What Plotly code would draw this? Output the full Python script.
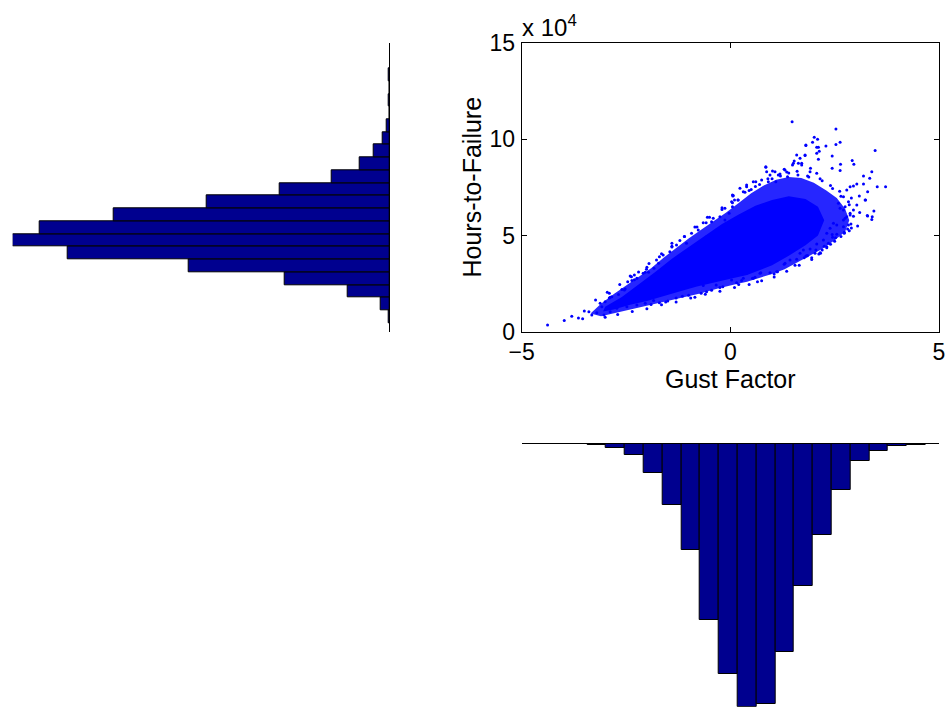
import plotly.graph_objects as go

# ---------------- data ----------------
# Individual scattered points around the cloud (Gust Factor, Hours-to-Failure in 1e4 h)
gust_factor = [
    2.53, 2.01, 2.09, 1.97, 1.81, 2.29, 2.53, 2.63, 2.07, 2.13, 3.47, 1.79, 2.44, 2.11, 2.92, 2.96, 2.64, 1.71,
    1.92, 2.44, 2.63, 3.39, 3.19, 3.34, 3.52, 3.72, 3.29, 3.09, 3.24, 3.03, 3.44, 3.40, 3.29, 2.87, 2.95, 2.79,
    2.71, 2.83, 2.79, 2.87, 2.95, 3.03, 3.19, 2.71, 2.59,
    1.48, 1.79, 1.67, 1.53, 1.49, 1.63, 0.85, 0.87, 1.01, 1.19, 1.31, 1.37, 1.09, 0.61, 0.50, 0.31, 0.06, 0.18,
    -0.13, -0.41, -0.58, 0.39, 0.75,
    2.73, 2.55, 2.45, 2.31, 2.12, 2.03, 1.81, 1.59, 1.29, 1.11, 0.95, 0.71, 0.55, 0.31, 0.15, -0.18, -0.34, -0.57,
    3.23, 3.28, 3.39, 2.87, 2.75, 2.89, 2.71, 2.73, 2.81, 2.52, 2.44, 2.31, 2.23, 2.07, 2.20, 2.05, 1.91, 1.85,
    1.77, 2.16, 2.31, 2.71, 2.63, 2.83, 2.75, 2.55, 2.39, 2.47,
    -0.65, 0.27, 0.53, 0.59, 0.73, 1.13, 1.31, 1.43, 1.67, 1.83, 1.75, 0.39, 0.03,
    -4.38, -3.98, -3.80, -3.64, -3.54, -3.50, -3.39, -3.32, -3.23, -3.12, -3.08, -3.20, -3.00, -2.88, -2.84, -2.68,
    -2.54, -2.40, -2.36, -2.46, -2.52, -2.24, -2.04, -1.96, -1.83, -1.72, -3.03, -2.88, -2.72, -2.48, -2.24, -2.04,
    -1.84,
    0.07, 0.19, 0.05, 0.05, -0.03, -0.25, -0.45, -0.65, -0.77, -0.93, -1.21, -1.29, -1.45, -1.61, -1.77, -2.01,
    -2.09, -2.37, -1.05, -0.57, -0.33, -0.13,
    1.81, 2.11, 2.07, 1.59, 1.51, 1.71, 0.85, 1.07, 1.29, 0.95, 0.55, 0.91, 0.05, 0.23, 0.03, 0.39, 2.07, 1.91,
    -1.50, -1.30, -1.00, -0.85, -1.70, -1.90, -1.15, -0.70, -0.45,
    1.20, 1.40, 1.62, 1.88, 2.20, 2.40, 2.62, 2.90, 3.10, 1.00, 0.70, 0.45, -0.20, -0.55, -0.85, -1.10, -1.40,
    -1.65, -1.95, -2.20, -2.65, -2.95, 1.55, 1.95, 2.25, 2.50, 2.85, 3.05, 2.35, 1.05, 0.65, 0.20, -0.25, -1.55,
    -2.90, -2.90, -2.60, -2.30, -2.30, -2.00, -1.70, -1.40, -1.40, -1.10, -0.80, -0.50, -0.20, 0.10, 0.35, 0.60,
    0.90, 1.15, 1.35, 1.60, 1.85, 2.15, 2.45, 2.65, 2.85, 2.95, 2.90,
    2.65, 2.40, 2.15, 1.95, 1.65, 1.35, 1.05, 0.75, 0.45, 0.10, -0.25, -0.60, -0.95, -1.30, -1.65, -2.00, -2.35,
    -2.70, -3.00,
]
hours_e4 = [
    10.54, 10.11, 10.01, 9.85, 9.68, 9.66, 9.73, 9.85, 9.59, 9.38, 9.42, 9.17, 9.14, 8.97, 8.90, 8.71, 8.71, 8.76,
    8.50, 8.50, 8.38, 8.32, 8.10, 7.98, 7.54, 7.54, 7.28, 7.06, 6.85, 6.59, 6.28, 5.98, 6.02, 6.16, 6.33, 5.98,
    5.81, 5.55, 7.37, 7.54, 7.58, 7.68, 7.68, 7.02, 6.68,
    10.92, 9.19, 9.02, 8.88, 8.67, 8.76, 8.55, 8.32, 8.36, 8.20, 8.41, 8.06, 7.80, 7.80, 7.40, 7.28, 7.06, 6.85,
    6.42, 5.90, 5.67, 7.63, 7.89,
    5.17, 5.07, 4.91, 4.42, 4.04, 4.08, 3.94, 3.77, 3.51, 3.12, 3.07, 3.04, 2.78, 2.78, 2.55, 2.34, 2.43, 2.08,
    6.85, 6.04, 5.84, 6.07, 5.90, 5.60, 5.46, 5.12, 5.34, 4.89, 5.06, 5.12, 4.77, 4.56, 4.25, 4.25, 4.30, 3.96,
    3.85, 4.08, 4.37, 6.33, 6.42, 6.76, 6.50, 5.55, 5.38, 5.64,
    2.40, 2.66, 2.78, 2.83, 3.07, 3.12, 3.56, 3.73, 4.08, 3.94, 4.25, 3.04, 2.69,
    0.35, 0.58, 0.80, 0.71, 0.68, 1.08, 1.04, 0.87, 1.65, 1.48, 1.30, 0.99, 1.56, 1.79, 1.82, 1.94,
    2.17, 2.90, 2.66, 2.60, 2.22, 2.78, 3.09, 3.09, 3.30, 3.56, 0.87, 1.04, 1.22, 1.30, 1.39, 1.48,
    1.62,
    7.08, 6.85, 6.71, 6.50, 6.16, 5.98, 5.72, 5.67, 5.29, 5.12, 4.74, 4.51, 4.16, 3.99, 3.73, 3.25,
    3.04, 2.86, 4.60, 4.94, 5.29, 5.81,
    9.71, 9.59, 9.28, 9.19, 8.76, 8.67, 8.58, 8.32, 8.45, 8.15, 7.80, 7.80, 7.11, 7.46, 6.76, 7.54, 8.24, 8.32,
    1.60, 1.75, 1.90, 1.79, 1.50, 1.42, 1.85, 2.00, 2.15,
    8.10, 8.25, 8.15, 8.05, 7.85, 7.60, 7.30, 6.95, 6.20, 7.95, 7.65, 7.35, 6.45, 5.95, 5.45, 4.95, 4.45,
    4.05, 3.55, 3.10, 2.45, 2.05, 3.45, 3.85, 4.45, 4.70, 5.25, 5.50, 4.60, 3.00, 2.60, 2.45, 2.30, 1.55,
    1.75, 2.00, 2.20, 2.70, 2.95, 3.35, 3.90, 4.40, 4.60, 4.95, 5.45, 5.95, 6.35, 6.85, 7.25, 7.55,
    7.95, 8.15, 8.30, 8.35, 8.10, 7.95, 7.45, 7.05, 6.60, 6.00, 5.40,
    4.95, 4.55, 4.10, 3.75, 3.45, 3.15, 2.85, 2.65, 2.45, 2.30, 2.10, 1.95, 1.75, 1.55, 1.40, 1.20, 1.05,
    0.90, 0.75,
]

# Envelope of the moderately dense part of the cloud
band_gust = [-3.35, -3.1, -2.8, -2.5, -2.2, -1.9, -1.6, -1.3, -1.0, -0.7, -0.4, -0.1, 0.2, 0.5, 0.8, 1.1, 1.4,
             1.7, 2.0, 2.3, 2.55, 2.75, 2.85, 2.75, 2.5, 2.2, 1.9, 1.6, 1.3, 1.0, 0.7, 0.4, 0.1, -0.3, -0.7, -1.1,
             -1.5, -1.9, -2.3, -2.7, -3.1]
band_hours = [0.95, 1.45, 1.95, 2.4, 2.85, 3.3, 3.85, 4.35, 4.85, 5.3, 5.75, 6.2, 6.7, 7.2, 7.6, 7.9, 8.05,
              8.0, 7.75, 7.35, 6.95, 6.4, 5.8, 5.2, 4.75, 4.3, 3.95, 3.6, 3.25, 3.0, 2.8, 2.6, 2.45, 2.25, 2.0,
              1.8, 1.6, 1.4, 1.2, 1.0, 0.8]
# Envelope of the saturated core of the cloud
core_gust = [-3.0, -2.6, -2.2, -1.8, -1.4, -1.0, -0.6, -0.2, 0.2, 0.6, 1.0, 1.4, 1.8, 2.1, 2.25,
             2.1, 1.8, 1.4, 1.0, 0.7, 0.4, 0.0, -0.4, -0.8, -1.2, -1.6, -2.0, -2.4, -2.8, -3.05]
core_hours = [1.3, 1.8, 2.45, 3.1, 3.8, 4.4, 5.0, 5.6, 6.1, 6.55, 6.85, 7.05, 6.9, 6.5, 5.8,
              5.0, 4.5, 3.95, 3.45, 3.2, 2.95, 2.75, 2.55, 2.35, 2.1, 1.85, 1.6, 1.4, 1.15, 1.05]

# Marginal histograms
hours_bin_centers = [0.783, 1.445, 2.108, 2.770, 3.432, 4.094, 4.757, 5.419, 6.081, 6.744, 7.406, 8.068,
                     8.731, 9.393, 10.055, 10.717, 11.380, 12.042, 12.704, 13.367]
hours_counts = [5, 40, 200, 500, 960, 1542, 1806, 1675, 1322, 877, 526, 278, 140, 77, 32, 14, 0, 5, 0, 2]
hours_bin_width = 0.6623

gust_bin_centers = [-4.105, -3.654, -3.204, -2.753, -2.303, -1.852, -1.402, -0.951, -0.501, -0.050,
                    0.400, 0.851, 1.301, 1.752, 2.202, 2.653, 3.103, 3.554, 4.004, 4.455]
gust_counts = [2, 2, 8, 24, 65, 177, 367, 638, 1065, 1389, 1587, 1569, 1258, 858, 548, 280, 104, 44, 10, 6]
gust_bin_width = 0.4505

x_ticks = [-5, 0, 5]
y_ticks = [0, 5, 10, 15]

# ---------------- figure ----------------
W, H = 948, 719
def fx(p):
    return p / W
def fy(p):
    return 1 - p / H

BLUE = "rgb(0,0,255)"
BAR = "#00008F"
FONT = "Liberation Sans, Arial, Helvetica, sans-serif"

fig = go.Figure()

fig.add_trace(go.Scatter(x=band_gust, y=band_hours, mode="lines", fill="toself",
                         fillcolor="rgba(0,0,255,0.85)", line=dict(width=0),
                         xaxis="x", yaxis="y", hoverinfo="skip"))
fig.add_trace(go.Scatter(x=core_gust, y=core_hours, mode="lines", fill="toself",
                         fillcolor=BLUE, line=dict(width=0),
                         xaxis="x", yaxis="y", hoverinfo="skip"))
fig.add_trace(go.Scatter(x=gust_factor, y=hours_e4, mode="markers",
                         marker=dict(size=3, color=BLUE, line=dict(width=0)),
                         xaxis="x", yaxis="y"))

fig.add_trace(go.Bar(y=hours_bin_centers, x=hours_counts, orientation="h", width=hours_bin_width,
                     marker=dict(color=BAR, line=dict(color="black", width=1)),
                     xaxis="x2", yaxis="y2"))
fig.add_trace(go.Bar(x=gust_bin_centers, y=gust_counts, width=gust_bin_width,
                     marker=dict(color=BAR, line=dict(color="black", width=1)),
                     xaxis="x3", yaxis="y3"))

axis_common = dict(showgrid=False, zeroline=False, showline=True, linecolor="black", linewidth=1,
                   mirror="ticks", ticks="inside", ticklen=5, tickcolor="black", automargin=False,
                   tickfont=dict(family=FONT, size=23, color="black"))
hidden = dict(showgrid=False, zeroline=False, showticklabels=False, ticks="", automargin=False)

fig.update_layout(
    template="none",
    width=W, height=H, margin=dict(l=0, r=0, t=0, b=0, pad=0, autoexpand=False),
    paper_bgcolor="white", plot_bgcolor="white", showlegend=False, bargap=0,
    font=dict(family=FONT, size=23, color="black"),
    xaxis=dict(domain=[fx(521.7), fx(939)], range=[-5, 5], tickvals=x_ticks, anchor="y", **axis_common),
    yaxis=dict(domain=[fy(331.7), fy(43.3)], range=[0, 15], tickvals=y_ticks, anchor="x",
               ticklabelstandoff=1, **axis_common),
    xaxis2=dict(domain=[fx(12.7), fx(389.3)], range=[max(hours_counts), 0], anchor="y2",
                showline=False, **hidden),
    yaxis2=dict(domain=[fy(331.7), fy(43.3)], range=[0, 15], anchor="x2", side="right",
                showline=True, linecolor="black", linewidth=1, **hidden),
    xaxis3=dict(domain=[fx(521.7), fx(939)], range=[-5, 5], anchor="y3", side="top",
                showline=True, linecolor="black", linewidth=1, **hidden),
    yaxis3=dict(domain=[fy(706.7), fy(444)], range=[max(gust_counts), 0], anchor="x3",
                showline=False, **hidden),
    annotations=[
        dict(text="x 10<sup>4</sup>", xref="paper", yref="paper", x=fx(520), y=fy(43),
             xanchor="left", yanchor="bottom", showarrow=False, font=dict(family=FONT, size=24)),
        dict(text="Gust Factor", xref="paper", yref="paper", x=fx(730), y=fy(363),
             xanchor="center", yanchor="top", showarrow=False, font=dict(family=FONT, size=25)),
        dict(text="Hours-to-Failure", xref="paper", yref="paper", x=fx(471), y=fy(187.5),
             xanchor="center", yanchor="middle", textangle=-90, showarrow=False,
             font=dict(family=FONT, size=25)),
    ],
)

fig.write_html("out.html")
